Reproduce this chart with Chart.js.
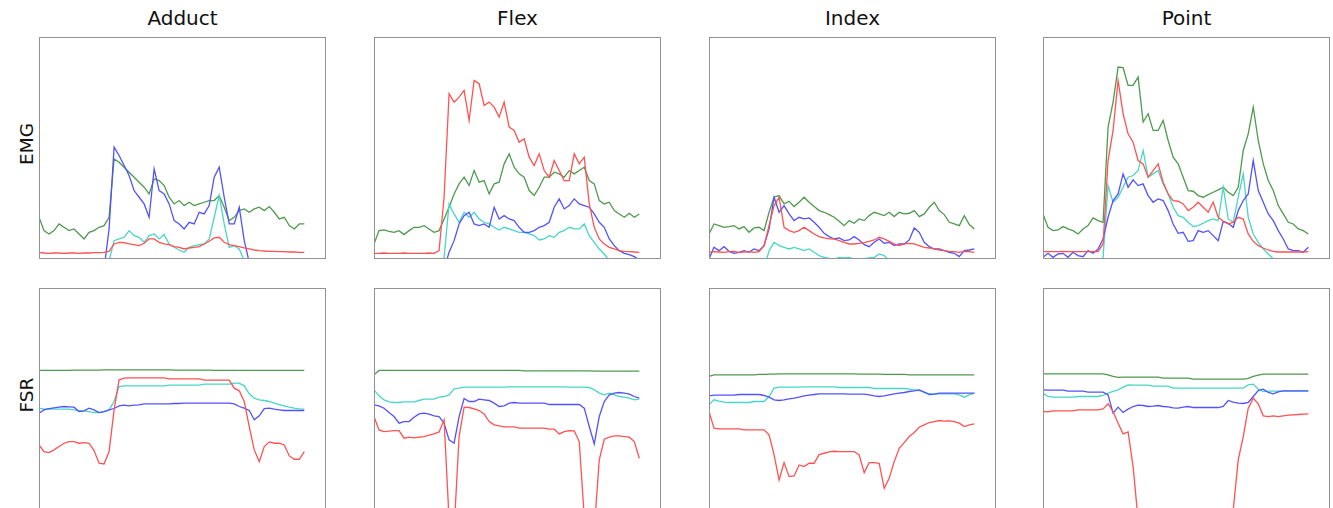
<!DOCTYPE html>
<html>
<head>
<meta charset="utf-8">
<script src="https://cdn.jsdelivr.net/npm/chart.js@4.4.1/dist/chart.umd.min.js"></script>
<style>
  html, body { margin: 0; padding: 0; background: #ffffff; width: 1333px; height: 508px; overflow: hidden; }
  #stage { position: relative; width: 1333px; height: 508px; font-family: "DejaVu Sans", sans-serif; color: #111; }
  canvas { position: absolute; }
  .ttl { position: absolute; font-size: 20px; line-height: 1; white-space: nowrap; transform: translateX(-50%); }
  .row { position: absolute; font-size: 18.5px; line-height: 1; white-space: nowrap; transform: translate(-50%, -50%) rotate(-90deg); }
</style>
</head>
<body>
<div id="stage"></div>
<script>
// ---------------- data (sample position, signal value) ----------------
const gestures = ['Adduct', 'Flex', 'Index', 'Point'];
const rowLabels = ['EMG', 'FSR'];
const sampleX = [0,15,30,45,60,75,90,105,120,135,150,165,180,195,210,225,240,255,270,285,300,315,330,345,360,375,390,405,420,435,450,465,480,495,510,525,540,555,570,585,600,615,630,645,660,675,690,705,720,735,750,765,780,795];

// EMG row
const adductEmgRed   = [20,18,17,18,18,17,18,18,17,18,18,19,19,20,23,45,50,49,45,43,40,47,60,60,50,45,43,37,35,30,33,35,37,45,53,63,65,50,43,40,37,33,30,27,25,24,23,23,22,22,21,21,20,20];
const adductEmgBlue  = [-30,-30,-30,-30,-30,-30,-30,-30,-30,-30,-30,-30,-30,-30,90,335,310,280,250,205,185,165,125,270,205,195,165,115,105,90,110,105,140,135,160,245,275,185,105,105,155,55,-10,-30,-30,-30,-30,-30,-30,-30,-30,-30,-30,-30];
const adductEmgCyan  = [-30,-30,-30,-30,-30,-30,-30,-30,-30,-30,-30,-30,-30,-30,-5,55,60,65,85,70,65,50,70,75,60,73,45,35,27,20,35,40,43,45,60,125,190,105,35,40,30,-5,-30,-30,-30,-30,-30,-30,-30,-30,-30,-30,-30,-30];
const adductEmgGreen = [125,85,75,85,105,95,85,90,75,60,80,85,95,100,125,300,290,275,260,245,230,215,195,240,235,220,185,165,175,160,170,160,165,170,175,175,190,155,115,125,145,150,140,150,155,145,157,140,120,125,100,90,105,105];

const flexEmgRed   = [17,17,18,17,17,17,18,17,17,17,17,18,17,25,185,495,470,485,505,415,535,525,460,470,455,425,470,395,385,350,360,305,280,315,265,245,295,265,235,235,315,285,305,165,95,60,45,35,30,25,23,22,21,20];
const flexEmgBlue  = [-30,-30,-30,-30,-30,-30,-30,-30,-30,-30,-30,-30,-30,-30,-30,20,55,105,130,140,105,100,105,95,155,120,130,120,115,95,80,80,85,95,100,110,155,180,150,160,180,165,160,155,135,110,95,60,40,25,17,13,7,-3];
const flexEmgCyan  = [-30,-30,-30,-30,-30,-30,-30,-30,-30,-30,-30,-30,-30,-30,5,165,135,110,140,125,140,120,110,105,95,87,95,90,85,80,80,75,70,57,60,70,65,80,85,95,90,90,105,70,50,30,15,-5,-30,-30,-30,-30,-30,-30];
const flexEmgGreen = [45,85,87,83,80,85,73,85,95,95,100,90,80,85,120,155,195,225,245,220,265,230,235,195,225,230,285,315,275,255,245,205,190,215,245,245,260,255,245,265,255,265,275,235,225,175,165,170,145,135,125,137,125,135];

const indexEmgRed   = [20,22,21,20,22,23,20,21,22,20,22,40,100,160,185,95,85,80,85,95,85,75,67,63,60,60,55,50,45,45,47,49,53,57,65,60,53,45,40,45,47,45,40,35,33,30,27,25,23,22,20,23,22,20];
const indexEmgBlue  = [0,35,25,37,23,17,20,25,20,30,25,40,90,185,140,160,135,115,125,120,123,110,95,77,67,60,63,55,57,67,57,43,37,50,60,47,50,40,45,45,57,93,80,50,37,30,30,25,20,17,7,25,27,30];
const indexEmgCyan  = [-30,-30,-30,-30,-30,-30,-30,-30,-30,-30,-30,-30,25,50,40,35,30,35,30,25,30,20,10,5,2,0,5,3,5,0,0,1,3,5,15,10,-5,-30,-30,-30,-30,-30,-30,-30,-30,-30,-30,-30,-30,-30,-30,-30,-30,-30];
const indexEmgGreen = [75,105,100,95,97,100,90,97,80,93,95,85,140,185,190,165,173,157,170,185,170,157,145,140,133,125,113,100,115,107,120,115,130,140,135,130,140,127,140,135,137,145,127,135,155,170,145,133,110,105,100,130,103,90];

const pointEmgRed   = [22,22,22,22,23,22,22,22,22,22,22,22,45,295,385,535,435,375,350,295,285,245,265,285,230,195,175,173,165,145,155,170,155,140,170,125,113,105,110,125,120,75,53,40,33,27,23,21,21,21,21,21,21,22];
const pointEmgBlue  = [5,17,5,15,17,5,20,10,7,25,17,30,60,125,175,195,255,215,237,220,225,190,170,180,175,145,105,77,80,53,55,85,80,85,70,55,113,107,95,145,175,195,295,205,170,135,115,85,60,30,25,25,20,35];
const pointEmgCyan  = [-30,-30,-30,-30,-30,-30,-30,-30,-30,-30,-30,-30,5,220,170,185,215,245,250,265,325,245,255,265,225,195,155,130,125,110,97,100,107,115,120,115,215,120,110,185,255,125,75,50,30,15,0,-30,-30,-30,-30,-30,-30,-30];
const pointEmgGreen = [135,95,85,87,97,90,85,75,90,100,123,115,110,395,470,575,573,520,520,545,410,435,385,385,415,355,305,285,245,205,203,190,185,193,200,207,215,200,190,215,325,375,455,355,285,235,205,160,135,110,105,90,85,75];

// FSR row
const adductFsrRed   = [195,175,172,180,190,200,205,205,200,202,200,178,140,138,175,300,390,395,396,396,396,396,396,396,396,396,393,393,393,393,393,393,393,389,389,389,389,389,389,365,357,325,250,180,145,190,204,200,200,195,162,152,152,175];
const adductFsrBlue  = [290,300,304,306,308,310,309,308,295,297,305,300,292,295,300,304,312,314,312,314,315,318,318,318,318,318,318,319,319,320,320,320,320,320,320,320,320,320,320,318,310,305,298,270,282,304,305,302,300,298,298,298,298,298];
const adductFsrCyan  = [305,302,302,302,302,302,302,300,297,297,295,292,292,295,300,325,370,372,372,372,372,372,372,372,372,372,374,374,374,374,374,374,374,377,377,377,377,377,377,380,380,372,348,335,330,328,325,320,316,312,308,305,303,302];
const adductFsrGreen = [418,418,418,418,418,418,418,419,419,419,419,419,419,420,420,420,420,420,420,420,420,420,420,420,420,420,420,419,419,419,419,419,419,419,419,418,418,418,418,418,418,418,418,418,418,418,418,418,418,418,418,418,418,418];

const flexFsrRed   = [280,240,235,236,238,238,215,218,216,218,220,224,228,234,270,-30,-60,220,308,307,303,298,288,265,255,252,249,249,249,245,245,245,245,245,245,242,242,228,235,238,237,205,-20,-60,-60,150,212,218,222,222,220,218,205,155];
const flexFsrBlue  = [315,312,305,292,280,260,265,265,278,288,290,287,282,280,260,210,200,280,334,325,325,332,330,328,320,310,312,320,322,320,320,320,320,320,320,316,316,316,316,316,316,316,305,250,198,280,325,345,350,352,350,347,340,335];
const flexFsrCyan  = [360,342,330,324,322,322,324,324,324,328,332,332,332,338,340,345,363,365,368,368,368,368,368,368,368,368,368,369,369,369,369,369,369,369,369,369,369,369,369,368,368,368,368,367,360,350,345,350,345,340,338,335,330,332];
const flexFsrGreen = [405,418,418,418,418,418,418,418,418,418,418,418,418,418,418,418,418,418,418,418,418,418,418,418,418,418,418,418,418,418,417,417,417,417,417,417,417,417,417,417,417,417,417,417,416,416,416,416,416,416,416,416,416,416];

const indexFsrRed   = [295,245,243,243,243,243,243,240,240,240,240,240,225,165,90,142,100,102,135,130,140,140,166,170,174,176,175,175,175,175,165,112,142,142,140,65,95,145,185,202,220,232,248,255,262,265,268,266,267,265,260,250,255,258];
const indexFsrBlue  = [342,344,344,344,344,344,346,346,346,346,346,343,338,330,328,330,333,335,338,342,344,346,348,348,348,348,348,348,347,347,347,347,345,342,340,342,345,348,350,352,355,357,360,353,346,347,350,350,350,350,350,350,350,350];
const indexFsrCyan  = [315,330,326,323,322,322,322,322,322,325,325,325,340,365,368,368,368,368,368,369,369,369,369,369,369,369,367,367,367,367,367,367,367,364,364,364,364,364,364,364,362,360,358,352,348,348,348,348,348,348,345,338,345,350];
const indexFsrGreen = [400,405,405,405,405,405,405,405,405,405,406,406,407,407,408,408,408,408,408,408,408,408,408,408,408,408,408,408,408,408,407,407,407,407,407,406,406,406,406,406,405,405,405,405,405,405,405,405,405,405,405,405,405,405];

const pointFsrRed   = [295,294,297,297,297,297,297,300,300,300,300,300,303,318,295,260,228,234,130,-30,-60,-60,-60,-60,-60,-60,-60,-60,-60,-60,-60,-60,-60,-60,-60,-60,-60,-60,0,150,220,305,335,318,282,280,282,280,282,284,285,286,287,288];
const pointFsrBlue  = [360,359,359,359,359,356,356,356,356,353,353,353,353,345,290,308,292,302,310,314,313,310,311,313,310,309,306,305,308,310,307,307,307,307,307,307,310,328,323,320,319,322,340,358,362,352,348,354,357,357,357,357,357,357];
const pointFsrCyan  = [350,340,338,338,338,338,338,340,340,340,340,340,343,350,355,360,368,375,374,374,374,374,371,371,371,371,365,365,365,365,365,365,365,365,365,365,365,365,365,365,365,375,377,362,355,356,356,356,356,356,356,356,356,356];
const pointFsrGreen = [408,408,408,408,408,408,408,408,408,408,408,408,408,405,400,397,398,398,398,398,398,398,398,398,395,395,395,395,395,395,392,392,392,392,392,392,392,392,392,392,392,394,400,404,407,407,407,407,407,407,407,407,407,407];

// ---------------- layout & styling ----------------
const seriesColors = { red: '#ff5252', blue: '#5252ff', cyan: '#48d6c6', green: '#4f9a4f' };
const panelLefts = [39, 374, 709, 1043];
const rowTops = [37, 288];
const frameW = 287, frameH = 222;
const xRange = [0, 860], yRange = [0, 665];

const grid = [
  [
    [adductEmgRed, adductEmgBlue, adductEmgCyan, adductEmgGreen],
    [flexEmgRed, flexEmgBlue, flexEmgCyan, flexEmgGreen],
    [indexEmgRed, indexEmgBlue, indexEmgCyan, indexEmgGreen],
    [pointEmgRed, pointEmgBlue, pointEmgCyan, pointEmgGreen]
  ],
  [
    [adductFsrRed, adductFsrBlue, adductFsrCyan, adductFsrGreen],
    [flexFsrRed, flexFsrBlue, flexFsrCyan, flexFsrGreen],
    [indexFsrRed, indexFsrBlue, indexFsrCyan, indexFsrGreen],
    [pointFsrRed, pointFsrBlue, pointFsrCyan, pointFsrGreen]
  ]
];
const colorOrder = ['red', 'blue', 'cyan', 'green'];

const framePlugin = {
  id: 'frame',
  afterDraw(chart) {
    const { ctx, chartArea: a } = chart;
    ctx.save();
    ctx.strokeStyle = '#929292';
    ctx.lineWidth = 1;
    ctx.strokeRect(a.left + 0.5, a.top + 0.5, a.width - 1, a.height - 1);
    ctx.restore();
  }
};

const stage = document.getElementById('stage');

gestures.forEach((g, c) => {
  const t = document.createElement('div');
  t.className = 'ttl';
  t.textContent = g;
  t.style.left = (panelLefts[c] + frameW / 2) + 'px';
  t.style.top = '8px';
  stage.appendChild(t);
});

rowLabels.forEach((r, ri) => {
  const d = document.createElement('div');
  d.className = 'row';
  d.textContent = r;
  d.style.left = '27px';
  d.style.top = (rowTops[ri] + frameH / 2 - 4) + 'px';
  stage.appendChild(d);
});

grid.forEach((row, ri) => {
  row.forEach((seriesList, c) => {
    const cv = document.createElement('canvas');
    cv.width = frameW + 2;
    cv.height = frameH + 2;
    cv.style.left = (panelLefts[c] - 1) + 'px';
    cv.style.top = (rowTops[ri] - 1) + 'px';
    cv.style.width = (frameW + 2) + 'px';
    cv.style.height = (frameH + 2) + 'px';
    stage.appendChild(cv);
    new Chart(cv, {
      type: 'line',
      data: {
        datasets: seriesList.map((vals, k) => ({
          label: gestures[c] + ' ' + rowLabels[ri] + ' ' + colorOrder[k],
          data: vals.map((v, i) => ({ x: sampleX[i], y: v })),
          borderColor: seriesColors[colorOrder[k]],
          borderWidth: 1.3,
          pointRadius: 0,
          tension: 0,
          fill: false
        }))
      },
      options: {
        responsive: false,
        animation: false,
        layout: { padding: 1 },
        plugins: { legend: { display: false }, tooltip: { enabled: false }, title: { display: false } },
        scales: {
          x: { type: 'linear', min: xRange[0], max: xRange[1], display: false },
          y: { type: 'linear', min: yRange[0], max: yRange[1], display: false }
        }
      },
      plugins: [framePlugin]
    });
  });
});
</script>
</body>
</html>
